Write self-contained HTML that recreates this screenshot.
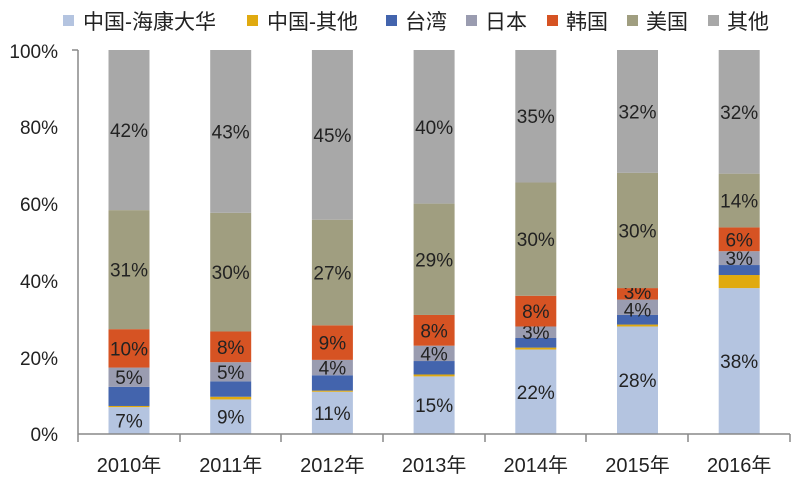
<!DOCTYPE html>
<html><head><meta charset="utf-8"><style>
html,body{margin:0;padding:0;background:#fff;}
svg{display:block;font-family:"Liberation Sans","Noto Sans CJK SC",sans-serif;}
</style></head><body>
<svg width="800" height="479" xmlns="http://www.w3.org/2000/svg">
<g font-size="21" fill="#222">
<rect x="63" y="15" width="11" height="11" fill="#b4c4e0"/><text x="83" y="29">中国-海康大华</text>
<rect x="247" y="15" width="11" height="11" fill="#e0aa10"/><text x="267" y="29">中国-其他</text>
<rect x="386" y="15" width="11" height="11" fill="#4364ad"/><text x="405" y="29">台湾</text>
<rect x="466" y="15" width="11" height="11" fill="#9a9cb0"/><text x="485" y="29">日本</text>
<rect x="547" y="15" width="11" height="11" fill="#d65323"/><text x="566" y="29">韩国</text>
<rect x="627" y="15" width="11" height="11" fill="#a09e80"/><text x="646" y="29">美国</text>
<rect x="708" y="15" width="11" height="11" fill="#a8a8a8"/><text x="727" y="29">其他</text>
</g>
<g font-size="19" fill="#222" text-anchor="end">
<text x="58" y="441">0%</text><text x="58" y="365">20%</text><text x="58" y="288">40%</text>
<text x="58" y="211">60%</text><text x="58" y="134">80%</text><text x="58" y="58">100%</text>
</g>
<g id="bars"></g>
<g stroke="#888" stroke-width="1.5">
<line x1="78" y1="50" x2="78" y2="434"/>
<line x1="72" y1="50" x2="78" y2="50"/>
<line x1="78" y1="434" x2="790" y2="434"/>
<line x1="78" y1="434" x2="78" y2="442"/><line x1="180" y1="434" x2="180" y2="442"/>
<line x1="281" y1="434" x2="281" y2="442"/><line x1="383" y1="434" x2="383" y2="442"/>
<line x1="485" y1="434" x2="485" y2="442"/><line x1="586" y1="434" x2="586" y2="442"/>
<line x1="688" y1="434" x2="688" y2="442"/><line x1="790" y1="434" x2="790" y2="442"/>
</g>
<g font-size="20" fill="#222" text-anchor="middle" id="xl"></g>
<script>
var cols=["#b4c4e0","#e0aa10","#4364ad","#9a9cb0","#d65323","#a09e80","#a8a8a8"];
var d=[[7,0.3,5,5,10,31],[9,0.7,4,5,8,30.9],[11,0.3,4,4,9,27.5],[15,0.5,3.5,4,8,29],[22,0.5,2.5,3,8,29.5],[28,0.5,2.5,4,3,30],[38,3.4,2.6,3.6,6.2,14]];
var lab=[["7%","","","5%","10%","31%","42%"],["9%","","","5%","8%","30%","43%"],["11%","","","4%","9%","27%","45%"],["15%","","","4%","8%","29%","40%"],["22%","","","3%","8%","30%","35%"],["28%","","","4%","3%","30%","32%"],["38%","","","3%","6%","14%","32%"]];
var ns="http://www.w3.org/2000/svg",g=document.getElementById("bars"),xl=document.getElementById("xl");
function el(t,a,p,tx){var e=document.createElementNS(ns,t);for(var k in a)e.setAttribute(k,a[k]);if(tx)e.textContent=tx;p.appendChild(e);return e;}
for(var i=0;i<7;i++){var cx=129+i*101.7,s=0;var v=d[i].slice();var sum=v.reduce(function(a,b){return a+b},0);v.push(100-sum);
for(var j=0;j<7;j++){var y0=434-s*3.84,h=v[j]*3.84;el("rect",{x:cx-20.5,y:y0-h,width:41,height:h,fill:cols[j]},g);
if(lab[i][j]){var ty=y0-h/2+7;if(j==3&&(i==5))ty=y0-h/2+9;if(j==4&&i==5)ty=y0-h/2+5;el("text",{x:cx,y:ty,"font-size":19,fill:"#222","text-anchor":"middle"},g,lab[i][j]);}
s+=v[j];}
el("text",{x:cx,y:472},xl,(2010+i)+"年");}
</script>
</svg>
</body></html>
